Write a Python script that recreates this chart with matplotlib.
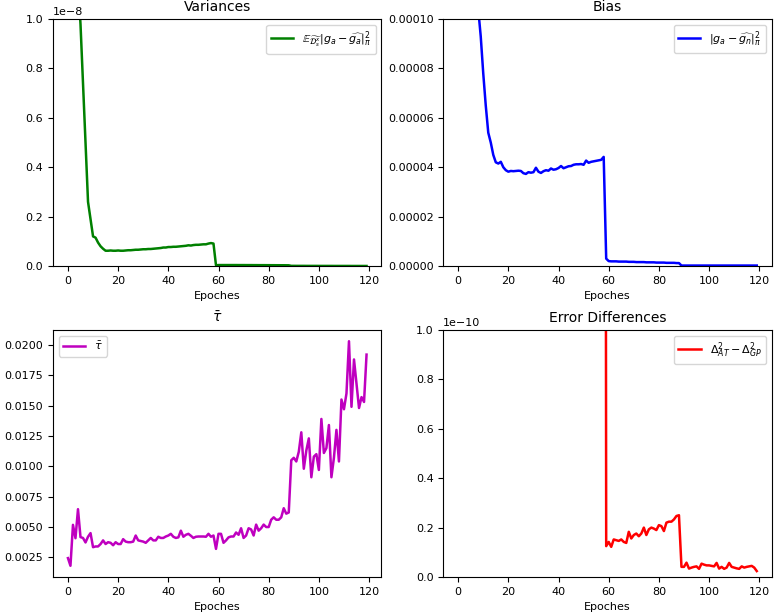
import numpy as np
import matplotlib
matplotlib.use('Agg')
import matplotlib.pyplot as plt

epochs = np.arange(120)

# Variances (units of 1e-8)
variances = [4.0, 3.0, 2.2, 1.6, 1.15, 0.98, 0.74, 0.5, 0.26, 0.19,
             0.12, 0.115, 0.095, 0.08, 0.07, 0.062, 0.062, 0.063, 0.062, 0.062,
             0.063, 0.062, 0.062, 0.063, 0.064, 0.064, 0.065, 0.066, 0.066, 0.067,
             0.068, 0.068, 0.069, 0.069, 0.070, 0.071, 0.072, 0.073, 0.075, 0.075,
             0.077, 0.077, 0.078, 0.078, 0.079, 0.080, 0.081, 0.082, 0.084, 0.083,
             0.085, 0.086, 0.086, 0.087, 0.088, 0.088, 0.091, 0.093, 0.091, 0.003,
             0.004, 0.004, 0.004, 0.004, 0.004, 0.004, 0.004, 0.004, 0.0039, 0.0039,
             0.0039, 0.0038, 0.0038, 0.0038, 0.0037, 0.0037, 0.0036, 0.0036, 0.0036, 0.0035,
             0.0035, 0.0034, 0.0034, 0.0033, 0.0033, 0.0032, 0.0032, 0.0031, 0.0030, 0.0008,
             0.0008, 0.0007, 0.0007, 0.0007, 0.0007, 0.0006, 0.0006, 0.0006, 0.0006, 0.0006,
             0.0005, 0.0005, 0.0005, 0.0005, 0.0005, 0.0005, 0.0004, 0.0004, 0.0004, 0.0004,
             0.0004, 0.0004, 0.0004, 0.0003, 0.0003, 0.0003, 0.0003, 0.0003, 0.0003, 0.0003]

# Bias (units of 1e-5)
bias = [40, 30, 25, 20, 17, 15, 13, 11.8, 10.4, 9.3,
        7.8, 6.5, 5.4, 5.0, 4.5, 4.2, 4.15, 4.22, 4.0, 3.88,
        3.82, 3.85, 3.84, 3.85, 3.86, 3.85, 3.76, 3.73, 3.8, 3.78,
        3.8, 3.98, 3.82, 3.77, 3.84, 3.88, 3.86, 3.95, 3.9, 3.92,
        3.97, 4.05, 3.96, 4.0, 4.04, 4.05, 4.1, 4.12, 4.12, 4.13,
        4.1, 4.27, 4.18, 4.22, 4.24, 4.26, 4.28, 4.3, 4.42, 0.3,
        0.2, 0.19, 0.19, 0.19, 0.18, 0.18, 0.18, 0.18, 0.17, 0.17,
        0.17, 0.16, 0.16, 0.16, 0.16, 0.15, 0.15, 0.15, 0.15, 0.14,
        0.14, 0.14, 0.14, 0.13, 0.13, 0.13, 0.13, 0.12, 0.12, 0.02,
        0.02, 0.02, 0.02, 0.02, 0.02, 0.02, 0.02, 0.02, 0.02, 0.02,
        0.02, 0.02, 0.02, 0.02, 0.02, 0.02, 0.02, 0.02, 0.02, 0.02,
        0.02, 0.02, 0.02, 0.02, 0.02, 0.02, 0.02, 0.02, 0.02, 0.02]

tau = [0.00244, 0.00181, 0.00518, 0.00408, 0.00647, 0.00417, 0.0041, 0.00373, 0.0042, 0.0045,
       0.00334, 0.0034, 0.0034, 0.0036, 0.0039, 0.0036, 0.00375, 0.0037, 0.0035, 0.00375,
       0.0036, 0.0036, 0.0040, 0.0038, 0.00375, 0.00375, 0.0038, 0.0043, 0.0039, 0.00385,
       0.0038, 0.0037, 0.0039, 0.0041, 0.0039, 0.0039, 0.0042, 0.0041, 0.0041, 0.00422,
       0.0043, 0.00444, 0.0042, 0.0041, 0.00415, 0.0047, 0.0042, 0.00436, 0.00444, 0.00428,
       0.0041, 0.0042, 0.00422, 0.00422, 0.00422, 0.0042, 0.00444, 0.0042, 0.0043, 0.0032,
       0.00444, 0.00444, 0.0037, 0.0039, 0.00415, 0.00422, 0.00422, 0.00455, 0.00436, 0.0049,
       0.0041, 0.0043, 0.0049, 0.0048, 0.0043, 0.0052, 0.0047, 0.0049, 0.0052, 0.005,
       0.005, 0.0056, 0.0058, 0.0056, 0.0056, 0.0058, 0.00655, 0.0061, 0.0062, 0.0105,
       0.0107, 0.0104, 0.0112, 0.0128, 0.0098, 0.0113, 0.0123, 0.0091, 0.0108, 0.011,
       0.0097, 0.0139, 0.0111, 0.0115, 0.0134, 0.0091, 0.0107, 0.0130, 0.0104, 0.0155,
       0.0147, 0.0160, 0.0203, 0.0149, 0.0188, 0.0168, 0.0148, 0.0157, 0.0153, 0.0192]

# Error differences (units of 1e-10), from epoch 58 on
err_epochs = np.arange(58, 120)
err_diff = [9.0, 0.125,
            0.142, 0.122, 0.152, 0.149, 0.146, 0.152, 0.142, 0.138, 0.183, 0.156,
            0.17, 0.176, 0.165, 0.176, 0.2, 0.17, 0.193, 0.2, 0.196, 0.19,
            0.21, 0.206, 0.186, 0.22, 0.224, 0.224, 0.233, 0.247, 0.25, 0.041,
            0.041, 0.058, 0.034, 0.038, 0.041, 0.043, 0.033, 0.054, 0.05, 0.047,
            0.047, 0.045, 0.043, 0.057, 0.034, 0.041, 0.033, 0.038, 0.057, 0.041,
            0.038, 0.035, 0.033, 0.043, 0.038, 0.041, 0.043, 0.045, 0.038, 0.024]

fig, axs = plt.subplots(2, 2, figsize=(7.74, 6.15), dpi=100)
fig.subplots_adjust(left=0.0685, right=0.997, top=0.969, bottom=0.0618,
                    wspace=0.188, hspace=0.259)
lw = 1.8

ax = axs[0, 0]
ax.plot(epochs, np.array(variances) * 1e-8, 'g', lw=lw,
        label=r'$\mathbb{E}_{\widetilde{\mathcal{D}^x_s}}|g_a-\widehat{g_a}|_\pi^2$')
ax.set_ylim(0, 1e-8)
ax.set_title('Variances')
ax.set_xlabel('Epoches')
ax.legend(loc='upper right', fontsize=8)

ax = axs[0, 1]
ax.plot(epochs, np.array(bias) * 1e-5, 'b', lw=lw,
        label=r'$|g_a-\widehat{g_n}|_\pi^2$')
ax.set_ylim(0, 0.0001)
ax.set_title('Bias')
ax.set_xlabel('Epoches')
ax.legend(loc='upper right', fontsize=8)

ax = axs[1, 0]
ax.plot(epochs, tau, 'm', lw=lw, label=r'$\bar{\tau}$')
ax.set_title(r'$\bar{\tau}$')
ax.set_xlabel('Epoches')
ax.legend(loc='upper left', fontsize=8)

ax = axs[1, 1]
ax.plot(err_epochs, np.array(err_diff) * 1e-10, 'r', lw=lw,
        label=r'$\Delta^2_{AT}-\Delta^2_{GP}$')
ax.set_xlim(axs[1, 0].get_xlim())
ax.set_ylim(0, 1e-10)
ax.set_title('Error Differences')
ax.set_xlabel('Epoches')
ax.legend(loc='upper right', fontsize=8)

for a in axs.flat:
    a.tick_params(labelsize=8)
    a.xaxis.label.set_size(8)
    a.yaxis.get_offset_text().set_size(8)
    a.title.set_size(10)

plt.savefig('out.png')
